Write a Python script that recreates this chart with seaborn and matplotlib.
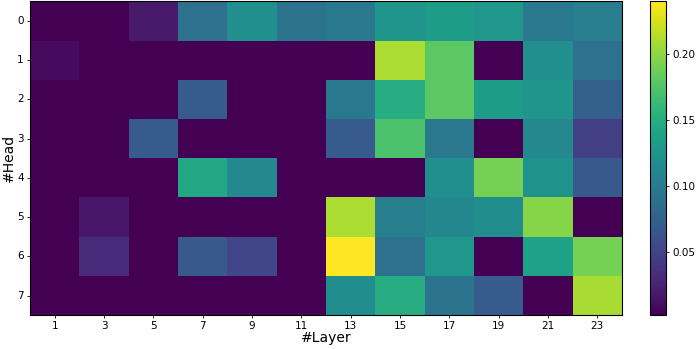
import numpy as np
import pandas as pd
import matplotlib
matplotlib.use('Agg')
import matplotlib.pyplot as plt
import seaborn as sns

# ==================== 数据 ====================
layers = [1, 3, 5, 7, 9, 11, 13, 15, 17, 19, 21, 23]
heads = [0, 1, 2, 3, 4, 5, 6, 7]

head0 = [0.002, 0.002, 0.018, 0.090, 0.120, 0.093, 0.097, 0.126, 0.133, 0.128, 0.097, 0.102]
head1 = [0.009, 0.002, 0.002, 0.002, 0.002, 0.002, 0.002, 0.210, 0.180, 0.002, 0.120, 0.090]
head2 = [0.002, 0.002, 0.002, 0.069, 0.002, 0.002, 0.097, 0.150, 0.180, 0.133, 0.126, 0.074]
head3 = [0.002, 0.002, 0.069, 0.002, 0.002, 0.002, 0.069, 0.173, 0.097, 0.002, 0.114, 0.046]
head4 = [0.002, 0.002, 0.002, 0.145, 0.114, 0.002, 0.002, 0.002, 0.120, 0.190, 0.123, 0.068]
head5 = [0.002, 0.016, 0.002, 0.002, 0.002, 0.002, 0.210, 0.104, 0.112, 0.118, 0.197, 0.002]
head6 = [0.002, 0.030, 0.002, 0.068, 0.052, 0.002, 0.240, 0.090, 0.128, 0.002, 0.138, 0.190]
head7 = [0.002, 0.002, 0.002, 0.002, 0.002, 0.002, 0.118, 0.150, 0.093, 0.069, 0.002, 0.209]

df = pd.DataFrame([head0, head1, head2, head3, head4, head5, head6, head7],
                  index=heads, columns=layers)

# ==================== 绘图 ====================
fig = plt.figure(figsize=(6.98, 3.49), dpi=100)
ax = fig.add_axes([0.043, 0.097, 0.848, 0.899])
cax = fig.add_axes([0.931, 0.097, 0.023, 0.899])

sns.heatmap(df, ax=ax, cbar_ax=cax, cmap='viridis',
            xticklabels=layers, yticklabels=heads)

for s in ax.spines.values():
    s.set_visible(True)
    s.set_linewidth(0.8)
    s.set_color('black')

ax.tick_params(axis='both', labelsize=7.5, length=2.5, width=0.6, pad=2)
ax.set_yticklabels(heads, rotation=0)
ax.set_xticklabels(layers, rotation=0)
ax.set_xlabel('#Layer', fontsize=10, labelpad=0)
ax.set_ylabel('#Head', fontsize=10, labelpad=1)

cbar = ax.collections[0].colorbar
cbar.set_ticks([0.05, 0.10, 0.15, 0.20])
cbar.ax.tick_params(labelsize=7.5, length=2.5, width=0.6, pad=2)
cbar.outline.set_visible(True)
cbar.outline.set_linewidth(0.8)
cbar.outline.set_edgecolor('black')

fig.savefig('out.png', dpi=100)
